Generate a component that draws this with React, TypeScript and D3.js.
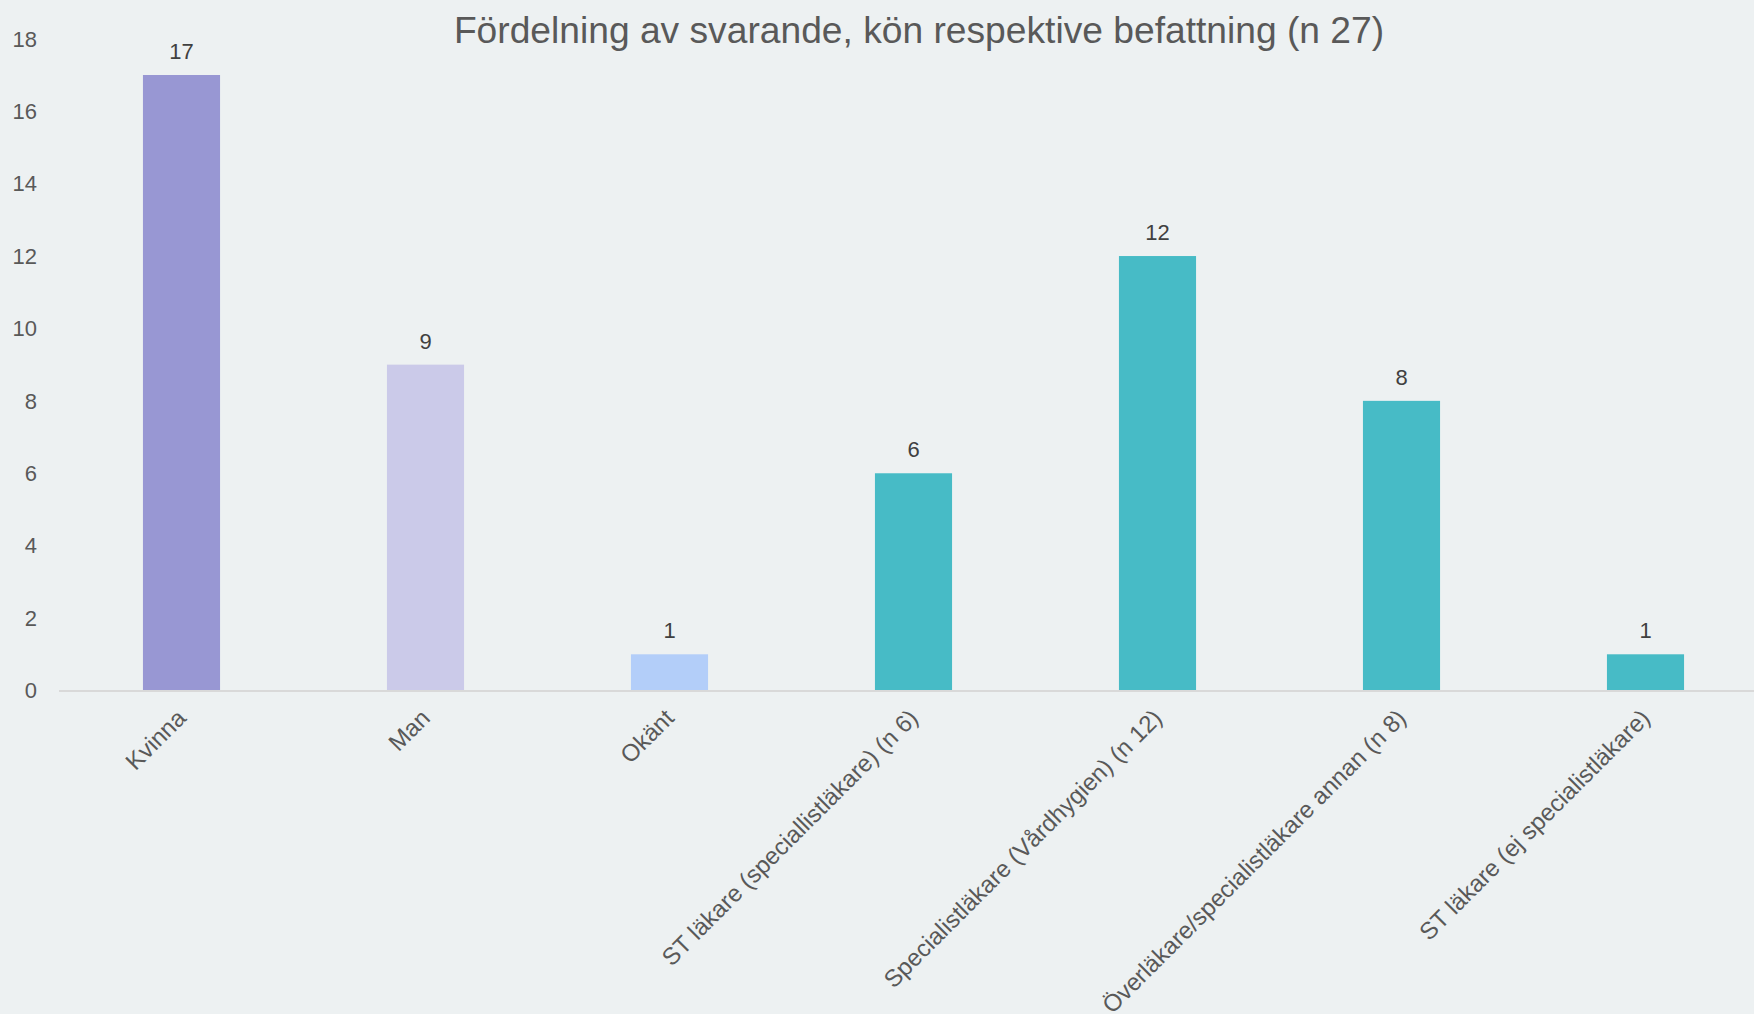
import React from "react";
import * as d3 from "d3";

const categories = [
  "Kvinna",
  "Man",
  "Okänt",
  "ST läkare (speciallistläkare) (n 6)",
  "Specialistläkare (Vårdhygien) (n 12)",
  "Överläkare/specialistläkare annan (n 8)",
  "ST läkare (ej specialistläkare)",
];
const values = [17, 9, 1, 6, 12, 8, 1];
const barColors = ["#9897D3", "#CBCAE9", "#B3CEF9", "#47BBC6", "#47BBC6", "#47BBC6", "#47BBC6"];
const yTicks = [0, 2, 4, 6, 8, 10, 12, 14, 16, 18];
const title = "Fördelning av svarande, kön respektive befattning (n 27)";

const W = 1754;
const H = 1014;
const FONT = "'Liberation Sans', Arial, sans-serif";

export default function App() {
  const x = d3.scaleBand<string>().domain(categories).range([59.5, 1767.5]).paddingInner(0.684).paddingOuter(0.342);
  const y = d3.scaleLinear().domain([0, 18]).range([690.5, 38.8]);
  const bw = x.bandwidth();

  return (
    <svg
      width={W}
      height={H}
      style={{ position: "absolute", left: 0, top: 0, background: "#EDF1F2" }}
      fontFamily={FONT}
    >
      <rect x={0} y={0} width={W} height={H} fill="#EDF1F2" />
      <text x={919} y={43} textAnchor="middle" fontSize={37.2} fill="#595959">
        {title}
      </text>
      {yTicks.map((t) => (
        <text key={t} x={37} y={y(t)} dy="0.35em" textAnchor="end" fontSize={22} fill="#595959">
          {t}
        </text>
      ))}
      {categories.map((c, i) => (
        <g key={c}>
          <rect x={x(c)} y={y(values[i])} width={bw} height={y(0) - y(values[i])} fill={barColors[i]} />
          <text
            x={(x(c) as number) + bw / 2}
            y={y(values[i]) - 16}
            textAnchor="middle"
            fontSize={22}
            fill="#404040"
          >
            {values[i]}
          </text>
          <text
            transform={`translate(${(x(c) as number) + bw / 2 + 6},${y(0) + 29}) rotate(-45)`}
            textAnchor="end"
            fontSize={24}
            fill="#595959"
          >
            {c}
          </text>
        </g>
      ))}
      <line x1={59} x2={W} y1={y(0) + 0.5} y2={y(0) + 0.5} stroke="#D9D9D9" strokeWidth={2} />
    </svg>
  );
}
